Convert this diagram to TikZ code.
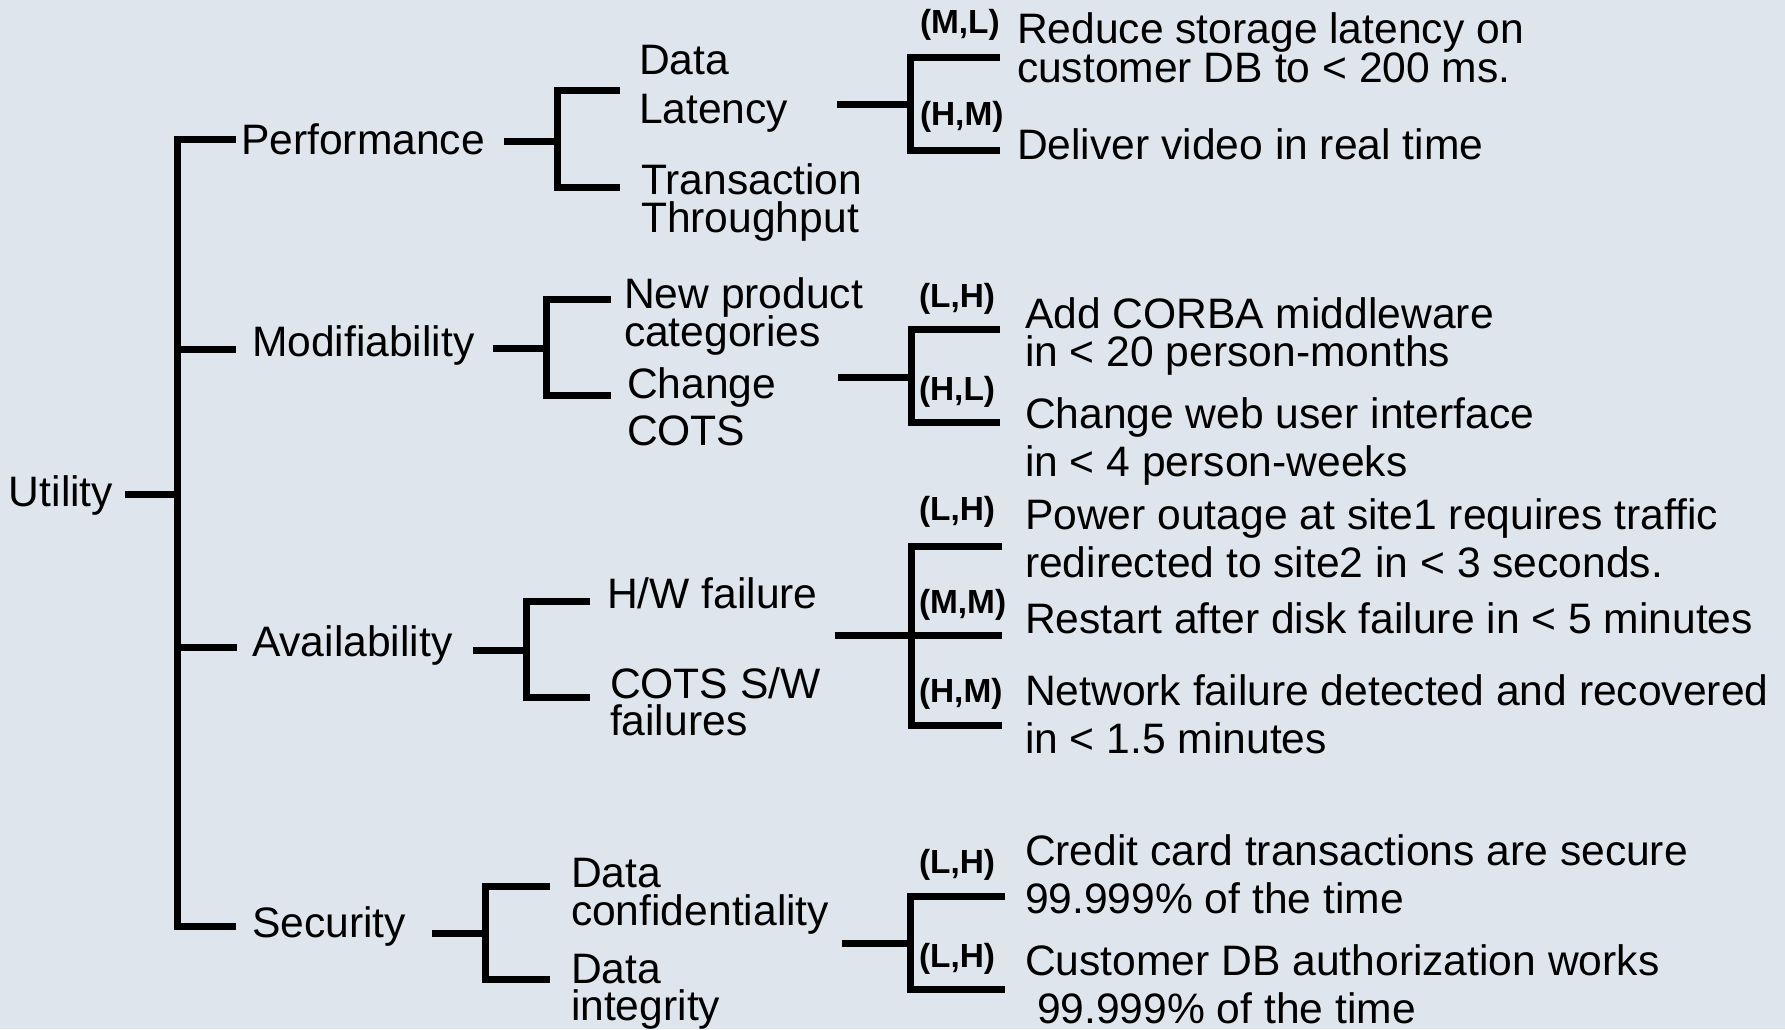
\documentclass[tikz,border=0pt]{standalone}
\usepackage{fontspec}
\setmainfont{Liberation Sans}
\definecolor{slide}{RGB}{222,229,236}
\tikzset{
  bar/.style={line width=7pt, line join=miter, line cap=butt, draw=black},
  lbl/.style={anchor=base west, inner sep=0pt, outer sep=0pt, font=\fontsize{42.6}{50}\selectfont},
  rank/.style={anchor=base west, inner sep=0pt, outer sep=0pt, font=\fontsize{33.4}{40}\selectfont\bfseries},
}
\begin{document}
\begin{tikzpicture}[x=1pt, y=-1pt]
% slide background
\path[fill=slide, use as bounding box] (0,0) rectangle (1785,1029);

% ---- root and quality attributes
\node[lbl] (utility) at (9,506) {Utility};
\node[lbl] (perf)  at (241,154) {Performance};
\node[lbl] (modif) at (252,356) {Modifiability};
\node[lbl] (avail) at (252,656) {Availability};
\node[lbl] (secu)  at (252,937) {Security};

% ---- refinements
\node[lbl] (dl1) at (639,74)  {Data};
\node[lbl] (dl2) at (639,123) {Latency};
\node[lbl] (tt1) at (641,194) {Transaction};
\node[lbl] (tt2) at (641,232) {Throughput};
\node[lbl] (np1) at (624,308) {New product};
\node[lbl] (np2) at (624,346) {categories};
\node[lbl] (cc1) at (627,398) {Change};
\node[lbl] (cc2) at (627,445) {COTS};
\node[lbl] (hw)  at (607,608) {H/W failure};
\node[lbl] (cs1) at (610,698) {COTS S/W};
\node[lbl] (cs2) at (610,735) {failures};
\node[lbl] (dc1) at (571,887) {Data};
\node[lbl] (dc2) at (571,925) {confidentiality};
\node[lbl] (di1) at (571,983) {Data};
\node[lbl] (di2) at (571,1020) {integrity};

% ---- scenarios
\node[lbl] (q1a) at (1017,43)  {Reduce storage latency on};
\node[lbl] (q1b) at (1017,82)  {customer DB to < 200 ms.};
\node[lbl] (q2)  at (1017,159) {Deliver video in real time};
\node[lbl] (q3a) at (1025,328) {Add CORBA middleware};
\node[lbl] (q3b) at (1025,366) {in < 20 person-months};
\node[lbl] (q4a) at (1025,428) {Change web user interface};
\node[lbl] (q4b) at (1025,476) {in < 4 person-weeks};
\node[lbl] (q5a) at (1025,529) {Power outage at site1 requires traffic};
\node[lbl] (q5b) at (1025,577) {redirected to site2 in < 3 seconds.};
\node[lbl] (q6)  at (1025,633) {Restart after disk failure in < 5 minutes};
\node[lbl] (q7a) at (1025,705) {Network failure detected and recovered};
\node[lbl] (q7b) at (1025,753) {in < 1.5 minutes};
\node[lbl] (q8a) at (1025,865) {Credit card transactions are secure};
\node[lbl] (q8b) at (1025,913) {99.999\% of the time};
\node[lbl] (q9a) at (1025,975) {Customer DB authorization works};
\node[lbl] (q9b) at (1037,1023) {99.999\% of the time};

% ---- (importance, difficulty) ratings
\node[rank] (r1) at (920,33)  {(M,L)};
\node[rank] (r2) at (920,125) {(H,M)};
\node[rank] (r3) at (919,307) {(L,H)};
\node[rank] (r4) at (919,400) {(H,L)};
\node[rank] (r5) at (919,520) {(L,H)};
\node[rank] (r6) at (919,613) {(M,M)};
\node[rank] (r7) at (919,702) {(H,M)};
\node[rank] (r8) at (919,873) {(L,H)};
\node[rank] (r9) at (919,967) {(L,H)};

% ---- bracket geometry
% level 1
\coordinate (uS) at (125,494);
\coordinate (s1) at (177,0);
\coordinate (t1a) at (236,139);
\coordinate (t1b) at (236,349);
\coordinate (t1c) at (237,647);
\coordinate (t1d) at (236,926);
% level 2
\coordinate (pS) at (504,141);  \coordinate (pT) at (620,90);  \coordinate (pB) at (620,187); \coordinate (ps) at (557,0);
\coordinate (mS) at (493,348);  \coordinate (mT) at (611,299); \coordinate (mB) at (611,395); \coordinate (ms) at (546,0);
\coordinate (aS) at (473,650);  \coordinate (aT) at (590,601); \coordinate (aB) at (590,697); \coordinate (as) at (526,0);
\coordinate (sS) at (432,933);  \coordinate (sT) at (550,886); \coordinate (sB) at (550,979); \coordinate (ss) at (485,0);
% level 3
\coordinate (lpS) at (837,104);  \coordinate (lpT) at (1000,57);  \coordinate (lpB) at (1000,150); \coordinate (lps) at (910,0);
\coordinate (lmS) at (838,377);  \coordinate (lmT) at (1000,329); \coordinate (lmB) at (1000,422); \coordinate (lms) at (911,0);
\coordinate (laS) at (835,635);  \coordinate (laT) at (1002,546); \coordinate (laM) at (1002,635); \coordinate (laB) at (1002,725); \coordinate (las) at (911,0);
\coordinate (lsS) at (842,943);  \coordinate (lsT) at (1005,896); \coordinate (lsB) at (1005,989); \coordinate (lss) at (910,0);

% ---- connectors
\draw[bar] (uS) -- (uS -| s1);
\draw[bar] (t1a) -- (t1a -| s1) -- (t1d -| s1) -- (t1d);
\draw[bar] (t1b -| s1) -- (t1b);
\draw[bar] (t1c -| s1) -- (t1c);

\draw[bar] (pS) -- (pS -| ps);
\draw[bar] (pT) -- (pT -| ps) -- (pB -| ps) -- (pB);
\draw[bar] (mS) -- (mS -| ms);
\draw[bar] (mT) -- (mT -| ms) -- (mB -| ms) -- (mB);
\draw[bar] (aS) -- (aS -| as);
\draw[bar] (aT) -- (aT -| as) -- (aB -| as) -- (aB);
\draw[bar] (sS) -- (sS -| ss);
\draw[bar] (sT) -- (sT -| ss) -- (sB -| ss) -- (sB);

\draw[bar] (lpS) -- (lpS -| lps);
\draw[bar] (lpT) -- (lpT -| lps) -- (lpB -| lps) -- (lpB);
\draw[bar] (lmS) -- (lmS -| lms);
\draw[bar] (lmT) -- (lmT -| lms) -- (lmB -| lms) -- (lmB);
\draw[bar] (laS) -- (laM);
\draw[bar] (laT) -- (laT -| las) -- (laB -| las) -- (laB);
\draw[bar] (lsS) -- (lsS -| lss);
\draw[bar] (lsT) -- (lsT -| lss) -- (lsB -| lss) -- (lsB);
\end{tikzpicture}
\end{document}
